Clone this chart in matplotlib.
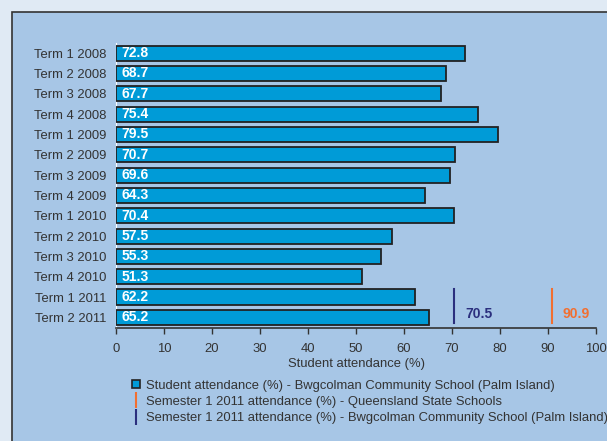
import matplotlib.pyplot as plt
from matplotlib.patches import Rectangle
from matplotlib.lines import Line2D

plt.rcParams['font.family'] = ['Liberation Sans', 'DejaVu Sans']

terms = ['Term 1 2008', 'Term 2 2008', 'Term 3 2008', 'Term 4 2008',
         'Term 1 2009', 'Term 2 2009', 'Term 3 2009', 'Term 4 2009',
         'Term 1 2010', 'Term 2 2010', 'Term 3 2010', 'Term 4 2010',
         'Term 1 2011', 'Term 2 2011']
attendance = [72.8, 68.7, 67.7, 75.4, 79.5, 70.7, 69.6, 64.3,
              70.4, 57.5, 55.3, 51.3, 62.2, 65.2]
school_sem1 = 70.5
state_sem1 = 90.9

bar_col = '#009BD7'
navy = '#2B2F7E'
orange = '#F26F30'
txt = '#333333'
fs = 9.4

fig = plt.figure(figsize=(6.07, 4.41), dpi=100, facecolor='#E0EAF4')
# panel behind the chart
panel = Rectangle((12/607, -0.05), 1.0, 1 - 12/441 + 0.05,
                  transform=fig.transFigure, facecolor='#A7C6E6',
                  edgecolor='#333333', lw=1.2, zorder=-5)
fig.add_artist(panel)

ax = fig.add_axes([116/607, 1 - 327.5/441, 480/607, 284.5/441])
ax.set_facecolor('none')

y = list(range(len(terms)))
ax.barh(y, attendance, height=0.74, color=bar_col, edgecolor='#222222',
        linewidth=1.3, zorder=3)
for yi, v in zip(y, attendance):
    ax.text(1.2, yi, f'{v:.1f}', color='white', fontweight='bold',
            fontsize=10, va='center', ha='left', zorder=4)

# semester 1 2011 markers on the last row pair
ax.plot([school_sem1, school_sem1], [11.6, 13.3], color=navy, lw=1.5, zorder=4)
ax.plot([state_sem1, state_sem1], [11.6, 13.3], color=orange, lw=1.5, zorder=4)
ax.text(school_sem1 + 2.2, 12.85, f'{school_sem1}', color=navy, fontweight='bold',
        fontsize=10, va='center', ha='left')
ax.text(state_sem1 + 2.2, 12.85, f'{state_sem1}', color=orange, fontweight='bold',
        fontsize=10, va='center', ha='left')

ax.set_xlim(0, 100)
ax.set_ylim(13.5, -0.5)
ax.set_xticks(range(0, 101, 10))
ax.set_yticks(y)
ax.set_yticklabels(terms)
ax.tick_params(axis='y', length=0, pad=7, labelsize=fs, labelcolor=txt)
ax.tick_params(axis='x', length=4, width=1, color='#333333', pad=7,
               labelsize=fs, labelcolor=txt)
for s in ['top', 'right']:
    ax.spines[s].set_visible(False)
ax.spines['left'].set_color('white')
ax.spines['left'].set_linestyle((0, (3, 1)))
ax.spines['bottom'].set_color('#333333')
ax.spines['bottom'].set_linewidth(1.2)
ax.set_xlabel('Student attendance (%)', fontsize=fs, color=txt, labelpad=2.5)

handles = [
    Line2D([], [], marker='s', ls='none', markersize=6, markerfacecolor=bar_col,
           markeredgecolor='#222222', markeredgewidth=1.2),
    Line2D([], [], marker='|', ls='none', markersize=11, markeredgecolor=orange,
           markeredgewidth=1.5),
    Line2D([], [], marker='|', ls='none', markersize=11, markeredgecolor=navy,
           markeredgewidth=1.5),
]
labels = ['Student attendance (%) - Bwgcolman Community School (Palm Island)',
          'Semester 1 2011 attendance (%) - Queensland State Schools',
          'Semester 1 2011 attendance (%) - Bwgcolman Community School (Palm Island)']
fig.legend(handles, labels, loc='upper left', bbox_to_anchor=(124/607, 1 - 373/441),
           frameon=False, fontsize=fs, handlelength=0.8, handletextpad=0.35,
           labelspacing=0.32, borderpad=0, labelcolor=txt)

fig.savefig('out.png', dpi=100, facecolor=fig.get_facecolor())
